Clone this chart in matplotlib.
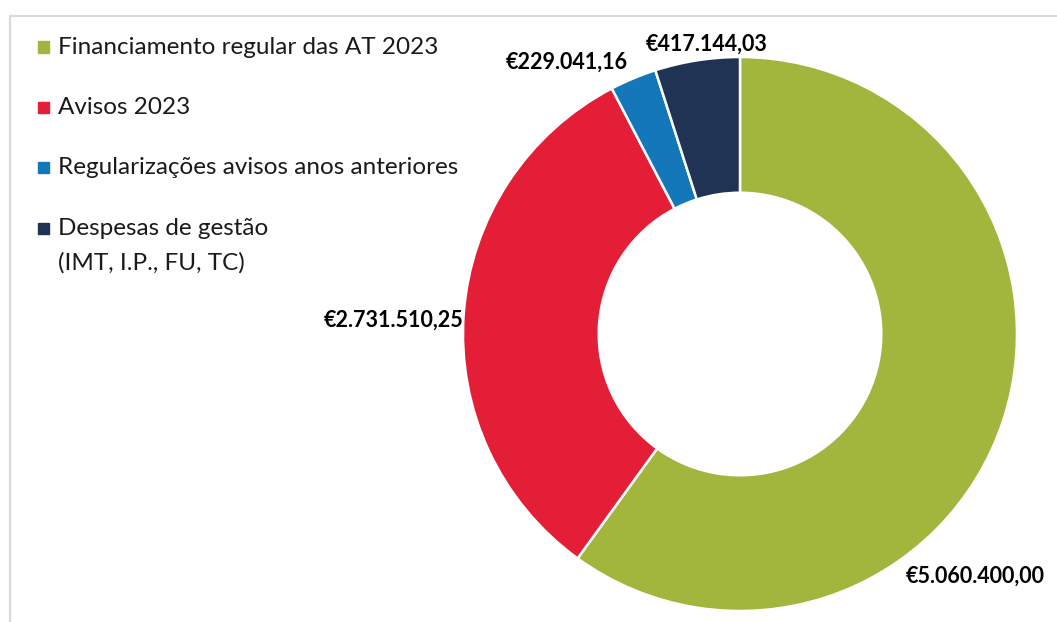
import matplotlib
matplotlib.use("Agg")
import matplotlib.pyplot as plt
from matplotlib.patches import Rectangle

plt.rcParams['font.family'] = ['Lato', 'DejaVu Sans']

categories = ["Financiamento regular das AT 2023",
              "Avisos 2023",
              "Regularizações avisos anos anteriores",
              "Despesas de gestão\n(IMT, I.P., FU, TC)"]
values = [5060400.00, 2731510.25, 229041.16, 417144.03]
colors = ['#A2B63D', '#E41E36', '#1477BA', '#203354']

# where Excel put the value labels (data coords, radius = 1)
label_pos = [(0.848, -0.874, 'center'), (-1.0, 0.05, 'right'),
             (-0.625, 0.982, 'center'), (-0.119, 1.047, 'center')]


def euro(v):
    s = f"{v:,.2f}"
    s = s.replace(",", "X").replace(".", ",").replace("X", ".")
    return "€" + s


fig = plt.figure(figsize=(10.57, 6.22), dpi=100)
ax = fig.add_axes([0, 0, 1, 1])

ax.pie(values, colors=colors, startangle=90, counterclock=False, radius=1,
       wedgeprops=dict(width=0.49, edgecolor='white', linewidth=1.8))
ax.set_aspect('auto')
ax.set_xlim(-740 / 277, (1057 - 740) / 277)
ax.set_ylim(-(622 - 334) / 277, 334 / 277)
ax.axis('off')

for v, (x, y, ha) in zip(values, label_pos):
    ax.text(x, y, euro(v), ha=ha, va='center', fontsize=15.5,
            fontweight='bold', color='black')

# legend drawn by hand so the marker sits on the first line
for i, (lab, c) in enumerate(zip(categories, colors)):
    yc = 1 - (47 + 60.5 * i) / 622
    fig.patches.append(Rectangle((38 / 1057, yc - 5.5 / 622), 11 / 1057, 11 / 622,
                                 transform=fig.transFigure, color=c))
    for j, line in enumerate(lab.split('\n')):
        fig.text(58 / 1057, yc - j * 34 / 622, line, ha='left', va='center',
                 fontsize=17.5, color='#1a1a1a')

# light frame of the chart area
fig.patches.append(Rectangle((9.5 / 1057, -0.1), 1.2, 1.1 - 15.5 / 622,
                             transform=fig.transFigure, fill=False,
                             edgecolor='#d9d9d9', linewidth=1.5))

fig.savefig("out.png", dpi=100)
